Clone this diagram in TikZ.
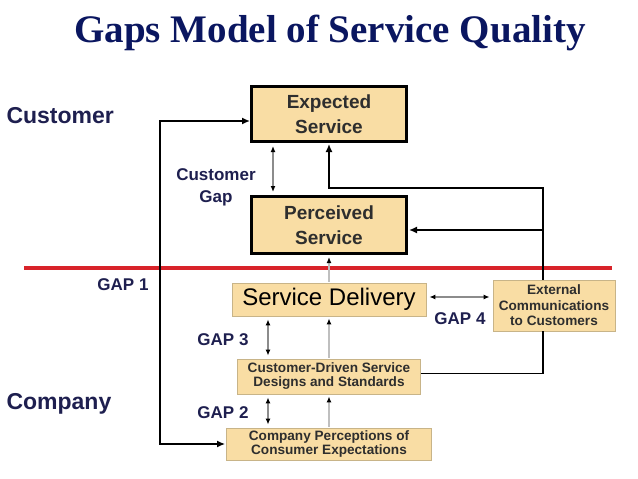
\documentclass[tikz,border=0pt]{standalone}
\usepackage{fontspec}
\setmainfont{Liberation Sans}
\newfontfamily\titlefont{Liberation Serif}
\usepackage{tikz}
\usetikzlibrary{arrows.meta}
\definecolor{boxtan}{HTML}{F9DDA4}
\definecolor{boxedge}{HTML}{C8B488}
\definecolor{boxtext}{HTML}{2E2E2E}
\definecolor{navy}{HTML}{1E1F4F}
\definecolor{titleblue}{HTML}{0A1660}
\definecolor{divred}{HTML}{D8232A}

\begin{document}
\begin{tikzpicture}[x=1pt, y=-1pt,
    tanbox/.style={fill=boxtan, draw=boxedge, line width=0.8pt, inner sep=0pt, align=center},
    bigbox/.style={tanbox, draw=black, line width=2.6pt, minimum width=155.4pt, text=boxtext, font=\bfseries\fontsize{19}{24.5}\selectfont},
    smallbox/.style={tanbox, text=boxtext, font=\bfseries\fontsize{13.6}{14}\selectfont},
    gaplabel/.style={text=navy, align=center, font=\bfseries\fontsize{17}{22}\selectfont},
    sidelabel/.style={text=navy, anchor=west, font=\bfseries\fontsize{23}{26}\selectfont},
    flow/.style={line width=1.5pt, shorten >=1pt, -{Latex[length=8pt,width=7pt]}},
    gaparrow/.style={draw=black!45, line width=1.2pt, shorten >=3pt, shorten <=3pt,
        {Latex[length=6pt,width=5pt,black]}-{Latex[length=6pt,width=5pt,black]}},
    upflow/.style={draw=black!25, line width=1.5pt, shorten >=2pt, shorten <=1pt, -{Latex[length=6pt,width=5pt,black]}},
    divider/.style={draw=divred, line width=3.5pt}]
    \useasboundingbox (0,0) rectangle (638,479);
    % title and sides
    \node[anchor=base, text=titleblue, font=\titlefont\bfseries\fontsize{39}{44}\selectfont] (title) at (330,42) {Gaps Model of Service Quality};
    \node[sidelabel] (custside) at (3,116) {Customer};
    \node[sidelabel] (compside) at (3,404) {Company};
    % customer boxes
    \node[bigbox, minimum height=55.4pt] (expected) at (329,114) {Expected\\Service};
    \node[bigbox, minimum height=57.4pt] (perceived) at (329,225) {Perceived\\Service};
    % company boxes
    \node[tanbox, minimum width=194pt, minimum height=33pt, text=black, font=\fontsize{24}{26}\selectfont] (delivery) at (329,299.5) {Service Delivery};
    \node[smallbox, minimum width=122pt, minimum height=51pt, font=\bfseries\fontsize{13.6}{15.5}\selectfont] (external) at (554,305.5) {External\\Communications\\to Customers};
    \node[smallbox, minimum width=183pt, minimum height=35pt] (designs) at (329,376.5) {Customer-Driven Service\\Designs and Standards};
    \node[smallbox, minimum width=205pt, minimum height=32pt] (perceptions) at (329,444) {Company Perceptions of\\Consumer Expectations};
    % gap labels
    \node[gaplabel] (custgap) at (216,187) {Customer\\Gap};
    \node[gaplabel] (gapone) at (123,285) {GAP 1};
    \node[gaplabel] (gapthree) at (223,340) {GAP 3};
    \node[gaplabel] (gaptwo) at (223,413) {GAP 2};
    \node[gaplabel] (gapfour) at (460,319) {GAP 4};
    % line between customer and company
    \draw[divider] (24,268) -- (612,268);
    % connectors
    \coordinate (leftrail) at (160,300);
    \coordinate (feedback) at (543,188);
    \coordinate (perceivedin) at ([yshift=-5pt]perceived.east);
    \draw[flow, {Latex[length=8pt,width=7pt]}-{Latex[length=8pt,width=7pt]}] ([yshift=-7pt]expected.west) -| (leftrail) |- (perceptions.west);
    \draw[line width=1.5pt] ([yshift=3pt]designs.east) -| ([xshift=-11pt]external.south);
    \draw[flow] ([xshift=-11pt]external.north) -- (feedback) -| (expected.south);
    \draw[flow] (feedback |- perceivedin) -- (perceivedin);
    \draw[upflow] (perceptions.north) -- (designs.south);
    \draw[upflow] (designs.north) -- (delivery.south);
    \draw[upflow] (delivery.north) -- (perceived.south);
    \draw[gaparrow] ([xshift=-56pt]expected.south) -- ([xshift=-56pt]perceived.north);
    \draw[gaparrow] ([xshift=-61pt]delivery.south) -- ([xshift=-61pt]designs.north);
    \draw[gaparrow] ([xshift=-61pt]designs.south) -- ([xshift=-61pt]perceptions.north);
    \draw[gaparrow] ([yshift=2.5pt]delivery.east) -- ([yshift=8.5pt]external.west);
\end{tikzpicture}
\end{document}
